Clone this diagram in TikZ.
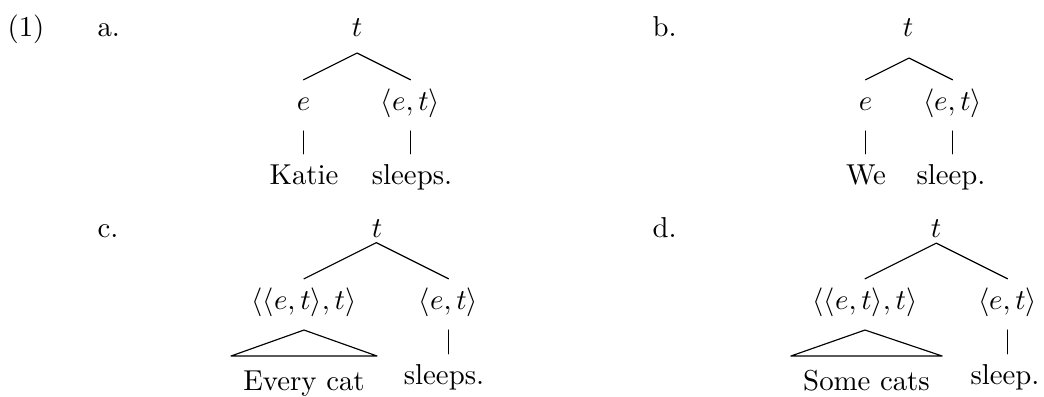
\documentclass[tikz,border=0pt]{standalone}
\usepackage{amsmath,amssymb}
\usetikzlibrary{calc}
\begin{document}
\begin{tikzpicture}[x=0.3472pt,y=-0.3472pt, line join=round, line cap=round,
	lab/.style={anchor=base west,inner sep=0pt},
	typ/.style={anchor=base,inner sep=0pt,text height=10.3pt,text depth=7.1pt},
	wrd/.style={anchor=base,inner sep=0pt,text height=10.3pt},
	roof/.style={anchor=base,inner ysep=0pt,inner xsep=4.1pt,text height=11.6pt}]
	\useasboundingbox (0,0) rectangle (1044,396);
	\node[lab] (ex) at (7,36) {(1)};
	\node[lab] (la) at (97,36) {a.};
	\node[lab] (lb) at (652,36) {b.};
	\node[lab] (lc) at (97,237) {c.};
	\node[lab] (ld) at (652,237) {d.};
	\node[typ] (ta) at (357,36) {$t$};
	\node[typ] (ea) at (303.5,110) {$e$};
	\node[typ] (eta) at (410.5,110) {$\langle e,t\rangle$};
	\node[wrd] (wa) at (304,184) {Katie};
	\node[wrd] (va) at (412,184) {sleeps.};
	\node[typ] (tb) at (908,36) {$t$};
	\node[typ] (eb) at (865.5,110) {$e$};
	\node[typ] (etb) at (952.5,110) {$\langle e,t\rangle$};
	\node[wrd] (wb) at (866,184) {We};
	\node[wrd] (vb) at (951,184) {sleep.};
	\node[typ] (tc) at (377,237) {$t$};
	\node[typ] (gc) at (304,309) {$\langle\langle e,t\rangle,t\rangle$};
	\node[typ] (etc) at (448.5,309) {$\langle e,t\rangle$};
	\node[roof] (wc) at (304,390) {Every cat};
	\node[wrd] (vc) at (444,384) {sleeps.};
	\node[typ] (td) at (936,237) {$t$};
	\node[typ] (gd) at (865,309) {$\langle\langle e,t\rangle,t\rangle$};
	\node[typ] (etd) at (1007.5,309) {$\langle e,t\rangle$};
	\node[roof] (wd) at (866.5,390) {Some cats};
	\node[wrd] (vd) at (1005,384) {sleep.};
	\coordinate (ra) at ($(ea.north)!.5!(eta.north)!.5!90:(eta.north)$);
	\coordinate (rb) at ($(eb.north)!.5!(etb.north)!.5!90:(etb.north)$);
	\coordinate (rc) at ($(gc.north)!.5!(etc.north)!.5!90:(etc.north)$);
	\coordinate (rd) at ($(gd.north)!.5!(etd.north)!.5!90:(etd.north)$);
	\draw (ea.north) -- (ra) -- (eta.north);
	\draw (eb.north) -- (rb) -- (etb.north);
	\draw (gc.north) -- (rc) -- (etc.north);
	\draw (gd.north) -- (rd) -- (etd.north);
	\draw (ea.south) -- (ea.south |- wa.north) (eta.south) -- (eta.south |- va.north);
	\draw (eb.south) -- (eb.south |- wb.north) (etb.south) -- (etb.south |- vb.north);
	\draw (etc.south) -- (etc.south |- vc.north) (etd.south) -- (etd.south |- vd.north);
	\draw (gc.south) -- (wc.north east) -- (wc.north west) -- cycle;
	\draw (gd.south) -- (wd.north east) -- (wd.north west) -- cycle;
\end{tikzpicture}
\end{document}
